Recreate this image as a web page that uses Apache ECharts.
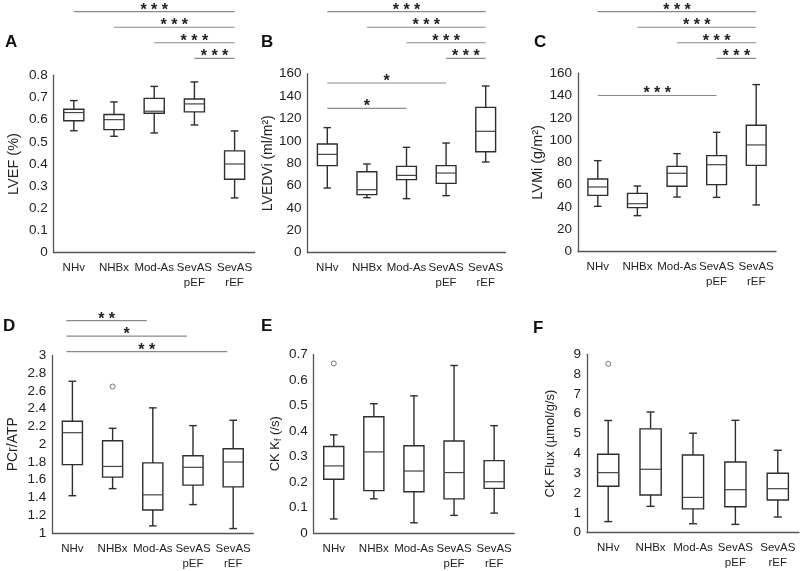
<!DOCTYPE html>
<html>
<head>
<meta charset="utf-8">
<script src="https://cdn.jsdelivr.net/npm/echarts@6/dist/echarts.min.js"></script>
<style>html,body{margin:0;padding:0;background:#fff}#c{width:800px;height:571px}</style>
</head>
<body>
<div id="c"></div>
<script>
// ---------- DATA ----------
const categories = ['NHv', 'NHBx', 'Mod-As', 'SevAS\npEF', 'SevAS\nrEF'];

// [min, Q1, median, Q3, max] per category
const lvefBoxes  = [[0.550,0.595,0.632,0.647,0.686],[0.525,0.555,0.600,0.623,0.680],[0.540,0.629,0.638,0.696,0.750],[0.576,0.635,0.671,0.693,0.770],[0.247,0.331,0.400,0.459,0.549]];
const lvediBoxes = [[57.8,77.8,87.9,97.2,111.8],[49.2,51.9,56.3,72.4,79.3],[48.3,65.3,69.1,77.2,94.2],[51.0,62.0,71.2,77.8,98.0],[81.1,90.3,108.5,129.9,149.0]];
const lvmiBoxes  = [[40.7,50.5,58.0,65.2,81.6],[32.3,39.5,43.0,52.3,58.9],[49.0,58.6,70.3,76.5,87.9],[48.7,60.1,78.0,86.1,107.0],[41.9,77.4,95.7,113.3,149.8]];
const pcrBoxes   = [[1.42,1.77,2.13,2.26,2.71],[1.50,1.63,1.75,2.04,2.18],[1.08,1.26,1.43,1.79,2.41],[1.32,1.54,1.74,1.87,2.21],[1.05,1.52,1.80,1.95,2.27]];
const kfBoxes    = [[0.055,0.211,0.263,0.339,0.385],[0.134,0.166,0.318,0.456,0.507],[0.040,0.162,0.243,0.342,0.538],[0.069,0.134,0.237,0.361,0.657],[0.078,0.175,0.201,0.284,0.421]];
const fluxBoxes  = [[0.56,2.34,3.03,3.96,5.66],[1.33,1.90,3.20,5.24,6.09],[0.45,1.20,1.78,3.92,5.02],[0.42,1.31,2.17,3.57,5.67],[0.79,1.65,2.22,3.00,4.16]];

// outliers: [categoryIndex, value]
const lvefOutliers = [];
const lvediOutliers = [];
const lvmiOutliers = [];
const pcrOutliers = [[1, 2.65]];
const kfOutliers = [[0, 0.665]];
const fluxOutliers = [[0, 8.52]];

// significance brackets above plot: [fromIdx, toIdx, level, label]
const lvefBracketsTop  = [[0,4,4,'* * *'],[1,4,3,'* * *'],[2,4,2,'* * *'],[3,4,1,'* * *']];
const lvediBracketsTop = [[0,4,4,'* * *'],[1,4,3,'* * *'],[2,4,2,'* * *'],[3,4,1,'* * *']];
const lvmiBracketsTop  = [[0,4,4,'* * *'],[1,4,3,'* * *'],[2,4,2,'* * *'],[3,4,1,'* * *']];
const pcrBracketsTop   = [[0,2,3,'* *'],[0,3,2,'*'],[0,4,1,'* *']];
// significance brackets inside plot: [fromIdx, toIdx, value, label]
const lvediBracketsIn = [[0,3,151.7,'*'],[0,2,129,'*']];
const lvmiBracketsIn  = [[0,3,140,'* * *']];

// axis ranges [min, max, interval]
const lvefAxis = [0, 0.8, 0.1];
const lvediAxis = [0, 160, 20];
const lvmiAxis = [0, 160, 20];
const pcrAxis = [1, 3, 0.2];
const kfAxis = [0, 0.7, 0.1];
const fluxAxis = [0, 9, 1];

const yNames = ['LVEF (%)', 'LVEDVi (ml/m²)', 'LVMi (g/m²)', 'PCr/ATP', 'CK K{sub|f} (/s)', 'CK Flux (µmol/g/s)'];
const letters = ['A','B','C','D','E','F'];

// ---------- LAYOUT / STYLE ----------
const panels = [
  {boxes: lvefBoxes, out: lvefOutliers, top: lvefBracketsTop, inner: [], axis: lvefAxis, nameSize: 14.5, nameGap: 32,
   g: {left: 53.7, top: 75.3, width: 201, height: 177.4}, sg: {top: 11.7, height: 46.6, levels: 4}, shift: 0, letter: {left: 5, top: 34}},
  {boxes: lvediBoxes, out: lvediOutliers, top: lvediBracketsTop, inner: lvediBracketsIn, axis: lvediAxis, nameSize: 14, nameGap: 32,
   g: {left: 307.5, top: 73.7, width: 198, height: 179}, sg: {top: 11.7, height: 46.6, levels: 4}, shift: 0, letter: {left: 261, top: 34}},
  {boxes: lvmiBoxes, out: lvmiOutliers, top: lvmiBracketsTop, inner: lvmiBracketsIn, axis: lvmiAxis, nameSize: 14.5, nameGap: 32,
   g: {left: 578, top: 73.2, width: 198, height: 178.5}, sg: {top: 11.7, height: 46.6, levels: 4}, shift: 0, letter: {left: 534, top: 34}},
  {boxes: pcrBoxes, out: pcrOutliers, top: pcrBracketsTop, inner: [], axis: pcrAxis, nameSize: 14, nameGap: 32,
   g: {left: 52.3, top: 355.5, width: 201, height: 177.7}, sg: {top: 320.7, height: 31, levels: 3}, shift: -6, letter: {left: 3, top: 318}},
  {boxes: kfBoxes, out: kfOutliers, top: [], inner: [], axis: kfAxis, nameSize: 13, nameGap: 31,
   g: {left: 313.7, top: 354.5, width: 200.5, height: 179}, sg: {top: 320, height: 30, levels: 3}, shift: 0, letter: {left: 261, top: 318}},
  {boxes: fluxBoxes, out: fluxOutliers, top: [], inner: [], axis: fluxAxis, nameSize: 13, nameGap: 30,
   g: {left: 587, top: 354.3, width: 212, height: 178.4}, sg: {top: 320, height: 30, levels: 3}, shift: 0, letter: {left: 533, top: 320}}
];

const FONT = 'Liberation Sans, Arial, sans-serif';
const BOX = '#2e2e2e';
const AXIS = '#555';

function renderBox(params, api) {
  const x = api.value(0);
  const pMin = api.coord([x, api.value(1)]);
  const pQ1 = api.coord([x, api.value(2)]);
  const pMed = api.coord([x, api.value(3)]);
  const pQ3 = api.coord([x, api.value(4)]);
  const pMax = api.coord([x, api.value(5)]);
  const band = Math.abs(api.coord([1, api.value(3)])[0] - api.coord([0, api.value(3)])[0]);
  const bw = band * 0.5, cw = band * 0.19;
  const cx = pMed[0];
  const st = {stroke: BOX, lineWidth: 1.4, fill: null};
  return {type: 'group', children: [
    {type: 'line', shape: {x1: cx, y1: pMax[1], x2: cx, y2: pQ3[1]}, style: st},
    {type: 'line', shape: {x1: cx, y1: pQ1[1], x2: cx, y2: pMin[1]}, style: st},
    {type: 'line', shape: {x1: cx - cw / 2, y1: pMax[1], x2: cx + cw / 2, y2: pMax[1]}, style: st},
    {type: 'line', shape: {x1: cx - cw / 2, y1: pMin[1], x2: cx + cw / 2, y2: pMin[1]}, style: st},
    {type: 'rect', shape: {x: cx - bw / 2, y: pQ3[1], width: bw, height: pQ1[1] - pQ3[1]}, style: {stroke: BOX, lineWidth: 1.4, fill: '#fff'}},
    {type: 'line', shape: {x1: cx - bw / 2, y1: pMed[1], x2: cx + bw / 2, y2: pMed[1]}, style: {stroke: '#444', lineWidth: 1.2}}
  ]};
}

function makeBracketRender(list, shift) {
  return function (params, api) {
    const b = list[params.dataIndex];
    const p1 = api.coord([b[0], b[2]]);
    const p2 = api.coord([b[1], b[2]]);
    const y = p1[1];
    const mid = (p1[0] + p2[0]) / 2 + shift;
    return {type: 'group', children: [
      {type: 'line', shape: {x1: p1[0] + shift, y1: y, x2: p2[0] + shift, y2: y}, style: {stroke: '#8a8a8a', lineWidth: 1.2}},
      {type: 'text', x: mid, y: y - 1.5, style: {text: b[3], fill: '#222', font: 'bold 16px ' + FONT,
        textAlign: 'center', textVerticalAlign: 'middle', align: 'center', verticalAlign: 'middle'}}
    ]};
  };
}

const grid = [], xAxis = [], yAxis = [], series = [], title = [];
panels.forEach(function (p, i) {
  const gi = 2 * i, si = 2 * i + 1;
  grid.push({left: p.g.left, top: p.g.top, width: p.g.width, height: p.g.height});
  grid.push({left: p.g.left, top: p.sg.top, width: p.g.width, height: p.sg.height});
  xAxis.push({gridIndex: gi, type: 'category', data: categories, boundaryGap: true,
    axisLine: {lineStyle: {color: AXIS, width: 1.3}}, axisTick: {show: false},
    axisLabel: {interval: 0, color: '#222', fontSize: 11.5, lineHeight: 15, margin: 8, fontFamily: FONT}});
  xAxis.push({gridIndex: si, type: 'category', data: categories, boundaryGap: true, show: false});
  yAxis.push({gridIndex: gi, type: 'value', min: p.axis[0], max: p.axis[1], interval: p.axis[2],
    name: yNames[i], nameLocation: 'middle', nameGap: p.nameGap,
    nameTextStyle: {color: '#222', fontSize: p.nameSize, fontFamily: FONT, rich: {sub: {fontSize: 9, verticalAlign: 'bottom', padding: [6, 0, 0, 0], color: '#222', fontFamily: FONT}}},
    axisLine: {show: true, lineStyle: {color: AXIS, width: 1.3}}, axisTick: {show: false}, splitLine: {show: false},
    axisLabel: {color: '#222', fontSize: 13.5, margin: 6, fontFamily: FONT}});
  yAxis.push({gridIndex: si, type: 'value', min: 1, max: p.sg.levels, show: false});

  series.push({type: 'custom', xAxisIndex: gi, yAxisIndex: gi, renderItem: renderBox, silent: true,
    encode: {x: 0, y: [1, 2, 3, 4, 5]},
    data: p.boxes.map(function (b, k) { return [k].concat(b); })});
  if (p.out.length) {
    series.push({type: 'scatter', xAxisIndex: gi, yAxisIndex: gi, silent: true, symbol: 'circle', symbolSize: 5,
      itemStyle: {color: '#fff', borderColor: '#555', borderWidth: 1}, data: p.out});
  }
  if (p.inner.length) {
    series.push({type: 'custom', xAxisIndex: gi, yAxisIndex: gi, silent: true, clip: false,
      renderItem: makeBracketRender(p.inner, 0), encode: {x: 0, y: 1},
      data: p.inner.map(function (b) { return [b[0], b[2]]; })});
  }
  if (p.top.length) {
    series.push({type: 'custom', xAxisIndex: si, yAxisIndex: si, silent: true, clip: false,
      renderItem: makeBracketRender(p.top, p.shift), encode: {x: 0, y: 1},
      data: p.top.map(function (b) { return [b[0], b[2]]; })});
  }
  title.push({text: letters[i], left: p.letter.left, top: p.letter.top, padding: 0,
    textStyle: {fontSize: 17, fontWeight: 'bold', color: '#111', fontFamily: FONT}});
});

const chart = echarts.init(document.getElementById('c'), null, {renderer: 'canvas'});
chart.setOption({animation: false, backgroundColor: '#fff', title: title, grid: grid, xAxis: xAxis, yAxis: yAxis, series: series});
</script>
</body>
</html>
